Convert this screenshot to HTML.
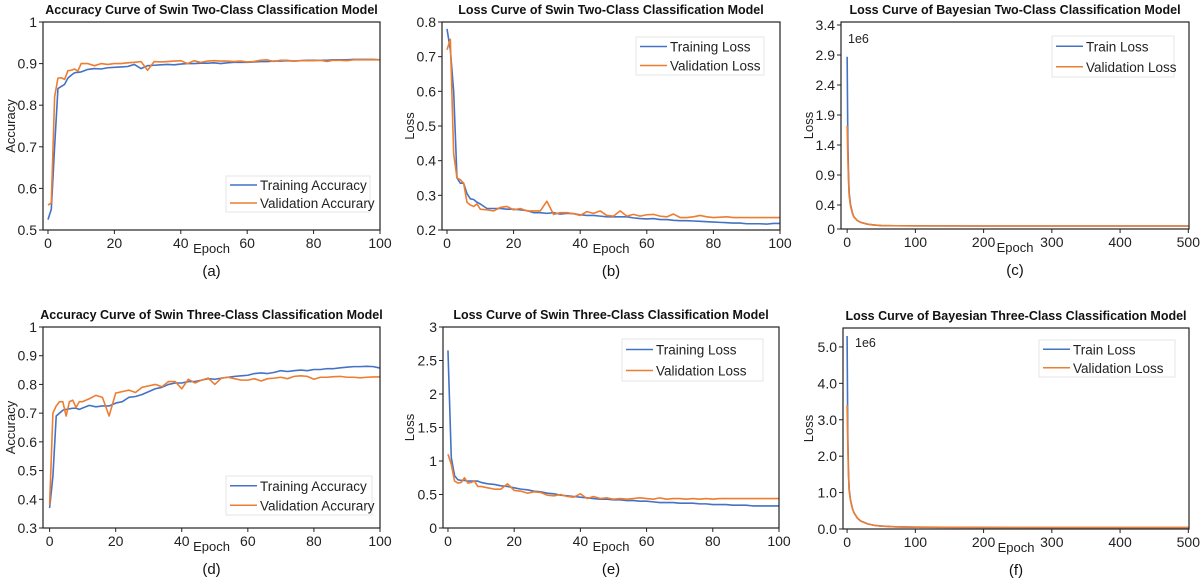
<!DOCTYPE html>
<html><head><meta charset="utf-8">
<style>
html,body{margin:0;padding:0;background:#fff;}
svg{display:block;font-family:"Liberation Sans",sans-serif;}
</style></head>
<body>
<svg id="fig" width="1200" height="581" viewBox="0 0 1200 581"></svg>
<script>
const epochs=[0,1,2,3,4,5,6,7,8,9,10,12,14,16,18,20,22,24,26,28,30,32,34,36,38,40,42,44,46,48,50,52,54,56,58,60,62,64,66,68,70,72,74,76,78,80,82,84,86,88,90,92,94,96,98,100];
const aTrain=[0.525,0.55,0.7,0.84,0.845,0.85,0.865,0.872,0.878,0.879,0.88,0.886,0.888,0.887,0.89,0.891,0.892,0.893,0.898,0.888,0.895,0.896,0.897,0.898,0.897,0.899,0.9,0.9,0.901,0.901,0.902,0.9,0.902,0.903,0.903,0.903,0.904,0.905,0.905,0.906,0.906,0.907,0.906,0.907,0.908,0.908,0.908,0.908,0.909,0.909,0.909,0.91,0.91,0.91,0.91,0.909];
const aVal=[0.56,0.565,0.82,0.865,0.866,0.862,0.883,0.884,0.887,0.882,0.9,0.9,0.895,0.9,0.898,0.9,0.9,0.902,0.903,0.905,0.884,0.905,0.904,0.905,0.906,0.907,0.9,0.907,0.903,0.906,0.907,0.906,0.906,0.905,0.906,0.904,0.905,0.908,0.909,0.905,0.908,0.908,0.906,0.907,0.907,0.907,0.908,0.905,0.908,0.908,0.907,0.909,0.909,0.909,0.909,0.909];
const bTrain=[0.78,0.72,0.6,0.35,0.335,0.335,0.305,0.29,0.288,0.28,0.275,0.262,0.262,0.262,0.26,0.26,0.258,0.256,0.25,0.25,0.248,0.25,0.246,0.248,0.247,0.244,0.242,0.242,0.24,0.238,0.238,0.238,0.238,0.235,0.233,0.232,0.233,0.23,0.23,0.228,0.227,0.227,0.226,0.225,0.224,0.223,0.222,0.221,0.22,0.22,0.218,0.218,0.218,0.217,0.219,0.219];
const bVal=[0.72,0.75,0.42,0.35,0.345,0.335,0.28,0.272,0.268,0.275,0.26,0.258,0.255,0.265,0.268,0.258,0.262,0.255,0.255,0.255,0.283,0.245,0.25,0.25,0.247,0.242,0.253,0.248,0.255,0.242,0.24,0.255,0.24,0.245,0.24,0.244,0.245,0.24,0.238,0.246,0.236,0.236,0.238,0.242,0.238,0.236,0.237,0.238,0.236,0.236,0.236,0.236,0.236,0.236,0.236,0.236];
const dTrain=[0.37,0.48,0.69,0.7,0.71,0.713,0.715,0.717,0.717,0.713,0.718,0.727,0.722,0.725,0.725,0.735,0.74,0.755,0.758,0.765,0.775,0.785,0.79,0.8,0.805,0.805,0.81,0.81,0.815,0.82,0.818,0.822,0.825,0.828,0.83,0.832,0.838,0.84,0.838,0.842,0.848,0.845,0.848,0.85,0.848,0.852,0.852,0.855,0.855,0.858,0.86,0.862,0.862,0.863,0.862,0.857];
const dVal=[0.38,0.7,0.725,0.74,0.74,0.69,0.74,0.745,0.72,0.74,0.74,0.75,0.762,0.755,0.69,0.77,0.775,0.78,0.772,0.79,0.795,0.8,0.792,0.81,0.81,0.785,0.818,0.805,0.815,0.822,0.8,0.822,0.825,0.82,0.815,0.815,0.82,0.812,0.82,0.822,0.825,0.82,0.828,0.83,0.828,0.818,0.825,0.825,0.827,0.828,0.825,0.825,0.823,0.825,0.826,0.826];
const eTrain=[2.65,1.05,0.78,0.72,0.71,0.71,0.7,0.7,0.7,0.7,0.68,0.66,0.65,0.63,0.62,0.6,0.58,0.57,0.55,0.54,0.52,0.51,0.49,0.48,0.47,0.46,0.45,0.44,0.43,0.43,0.42,0.42,0.41,0.41,0.4,0.4,0.39,0.38,0.38,0.38,0.37,0.37,0.37,0.36,0.36,0.35,0.35,0.35,0.34,0.34,0.34,0.33,0.33,0.33,0.33,0.33];
const eVal=[1.1,0.95,0.7,0.67,0.68,0.75,0.67,0.68,0.7,0.62,0.62,0.6,0.58,0.58,0.66,0.56,0.55,0.52,0.54,0.53,0.49,0.48,0.5,0.47,0.46,0.51,0.44,0.47,0.44,0.45,0.43,0.44,0.43,0.44,0.45,0.44,0.43,0.45,0.43,0.44,0.44,0.43,0.44,0.43,0.44,0.43,0.44,0.44,0.44,0.44,0.44,0.44,0.44,0.44,0.44,0.44];
const bayesEpochs=[0,1,2,3,5,8,10,15,20,30,40,50,70,100,200,300,400,500];
const cTrain=[2.87,1.5,0.9,0.6,0.4,0.26,0.2,0.14,0.11,0.08,0.065,0.058,0.054,0.052,0.05,0.05,0.05,0.05];
const cVal=[1.72,1.2,0.8,0.55,0.38,0.25,0.2,0.14,0.11,0.08,0.065,0.058,0.054,0.052,0.05,0.05,0.05,0.05];
const fTrain=[5.3,2.6,1.6,1.1,0.8,0.55,0.45,0.3,0.22,0.14,0.1,0.08,0.06,0.05,0.042,0.04,0.04,0.04];
const fVal=[3.4,2.3,1.5,1.05,0.78,0.54,0.45,0.3,0.22,0.14,0.1,0.08,0.06,0.05,0.042,0.04,0.04,0.04];
const accTicks=[0.5,0.6,0.7,0.8,0.9,1];
const lossBTicks=[0.2,0.3,0.4,0.5,0.6,0.7,0.8];
const cTicks=[0,0.4,0.9,1.4,1.9,2.4,2.9,3.4];
const dTicks=[0.3,0.4,0.5,0.6,0.7,0.8,0.9,1];
const eTicks=[0,0.5,1,1.5,2,2.5,3];
const fTicks=[0,1,2,3,4,5];
const x100Ticks=[0,20,40,60,80,100];
const x500Ticks=[0,100,200,300,400,500];

const NS='http://www.w3.org/2000/svg';
const svg=document.getElementById('fig');
function mk(tag,attrs,parent,text){const e=document.createElementNS(NS,tag);for(const k in attrs)e.setAttribute(k,attrs[k]);if(text!==undefined)e.textContent=text;(parent||svg).appendChild(e);return e;}
const BLUE='#4472C4',ORANGE='#ED7D31';

function panel(p){
  const g=mk('g',{});
  
  
  const sx=v=>p.L+(v-p.xmin)/(p.xmax-p.xmin)*(p.R-p.L);
  const sy=v=>p.B-(v-p.ymin)/(p.ymax-p.ymin)*(p.B-p.T);
  const t=mk('text',{x:(p.L+p.R)/2,y:p.T-8,'text-anchor':'middle','font-size':12.5,'font-weight':'bold',fill:'#111'},g,p.title);
  
  
  p.series.forEach(s=>{
    const d=s.y.map((v,i)=>(i?'L':'M')+sx(s.x[i]).toFixed(2)+','+sy(v).toFixed(2)).join(' ');
    const path=mk('path',{d:d,fill:'none',stroke:s.c,'stroke-width':1.6,'stroke-linejoin':'round'},g);
    
    
  });
  const fr=mk('rect',{x:p.L,y:p.T,width:p.R-p.L,height:p.B-p.T,fill:'none',stroke:'#222','stroke-width':1.2},g);
  
  
  p.yt.forEach(v=>{
    const y=sy(v);
    mk('line',{x1:p.L-4,x2:p.L,y1:y,y2:y,stroke:'#222'},g);
    const tl=mk('text',{x:p.L-6,y:y+5,'text-anchor':'end','font-size':14,fill:'#222'},g,p.yfmt?p.yfmt(v):String(v));
    
    
  });
  p.xt.forEach(v=>{
    const x=sx(v);
    mk('line',{x1:x,x2:x,y1:p.B,y2:p.B+4,stroke:'#222'},g);
    const tl=mk('text',{x:x,y:p.B+18,'text-anchor':'middle','font-size':14,fill:'#222'},g,String(v));
    
    
  });
  const xl=mk('text',{x:(p.L+p.R)/2,y:p.B+23,'text-anchor':'middle','font-size':13,fill:'#222'},g,'Epoch');
  
  
  const yc=(p.T+p.B)/2;
  const yl=mk('text',{x:p.ylx,y:yc,'text-anchor':'middle','font-size':13,fill:'#222',transform:'rotate(-90 '+(p.ylx)+' '+yc+')'},g,p.ylabel);
  
  
  const pl=mk('text',{x:(p.L+p.R)/2,y:p.B+46,'text-anchor':'middle','font-size':15,fill:'#111'},g,p.label);
  
  
  if(p.sci){
    const st=mk('text',{x:p.sci[0],y:p.sci[1],'font-size':12.5,fill:'#222'},g,'1e6');
    
    
  }
  const lg=p.leg;
  const lb=mk('rect',{x:lg[0],y:lg[1],width:lg[2]-lg[0],height:lg[3]-lg[1],fill:'#fff',stroke:'#e6e6e6'},g);
  
  
  const rh=(lg[3]-lg[1])/2;
  p.series.forEach((s,i)=>{
    const y=lg[1]+rh*(i+0.5);
    mk('line',{x1:lg[0]+4,x2:lg[0]+31,y1:y,y2:y,stroke:s.c,'stroke-width':1.6},g);
    const lt=mk('text',{x:lg[0]+34,y:y+5,'font-size':13.5,fill:'#222'},g,s.label);
    
    
  });
}
const f1=v=>v.toFixed(1);
panel({id:'a',title:'Accuracy Curve of Swin Two-Class Classification Model',L:43,R:380,T:22,B:230,xmin:-1.5,xmax:100,ymin:0.5,ymax:1,yt:accTicks,xt:x100Ticks,ylabel:'Accuracy',ylx:15,label:'(a)',leg:[226,176,370,212],
 series:[{name:'training-accuracy-line',label:'Training Accuracy',x:epochs,y:aTrain,c:BLUE},{name:'validation-accuracy-line',label:'Validation Accurary',x:epochs,y:aVal,c:ORANGE}]});
panel({id:'b',title:'Loss Curve of Swin Two-Class Classification Model',L:442,R:780,T:22,B:230,xmin:-1.5,xmax:100,ymin:0.2,ymax:0.8,yt:lossBTicks,xt:x100Ticks,ylabel:'Loss',ylx:414,label:'(b)',leg:[636,37,764,75],
 series:[{name:'training-loss-line',label:'Training Loss',x:epochs,y:bTrain,c:BLUE},{name:'validation-loss-line',label:'Validation Loss',x:epochs,y:bVal,c:ORANGE}]});
panel({id:'c',title:'Loss  Curve of Bayesian Two-Class Classification Model',L:841,R:1189,T:22,B:229,xmin:-9,xmax:501,ymin:0,ymax:3.45,yt:cTicks,xt:x500Ticks,ylabel:'Loss',ylx:813,label:'(c)',leg:[1052,36,1174,77],sci:[848,43],
 series:[{name:'train-loss-line',label:'Train Loss',x:bayesEpochs,y:cTrain,c:BLUE},{name:'validation-loss-line',label:'Validation Loss',x:bayesEpochs,y:cVal,c:ORANGE}]});
panel({id:'d',title:'Accuracy Curve of Swin Three-Class Classification Model',L:43,R:380,T:327,B:528,xmin:-2,xmax:100,ymin:0.3,ymax:1,yt:dTicks,xt:x100Ticks,ylabel:'Accuracy',ylx:15,label:'(d)',leg:[226,476,372,515],
 series:[{name:'training-accuracy-line',label:'Training Accuracy',x:epochs,y:dTrain,c:BLUE},{name:'validation-accuracy-line',label:'Validation Accurary',x:epochs,y:dVal,c:ORANGE}]});
panel({id:'e',title:'Loss Curve of Swin Three-Class Classification Model',L:443,R:779,T:327,B:528,xmin:-1.5,xmax:100,ymin:0,ymax:3,yt:eTicks,xt:x100Ticks,ylabel:'Loss',ylx:414,label:'(e)',leg:[622,339,763,381],
 series:[{name:'training-loss-line',label:'Training Loss',x:epochs,y:eTrain,c:BLUE},{name:'validation-loss-line',label:'Validation Loss',x:epochs,y:eVal,c:ORANGE}]});
panel({id:'f',title:'Loss  Curve of Bayesian Three-Class Classification Model',L:843,R:1189,T:328,B:529,xmin:-6,xmax:501,ymin:0,ymax:5.52,yt:fTicks,yfmt:f1,xt:x500Ticks,ylabel:'Loss',ylx:813,label:'(f)',leg:[1039,340,1175,377],sci:[855,347],
 series:[{name:'train-loss-line',label:'Train Loss',x:bayesEpochs,y:fTrain,c:BLUE},{name:'validation-loss-line',label:'Validation Loss',x:bayesEpochs,y:fVal,c:ORANGE}]});
</script>
</body></html>
